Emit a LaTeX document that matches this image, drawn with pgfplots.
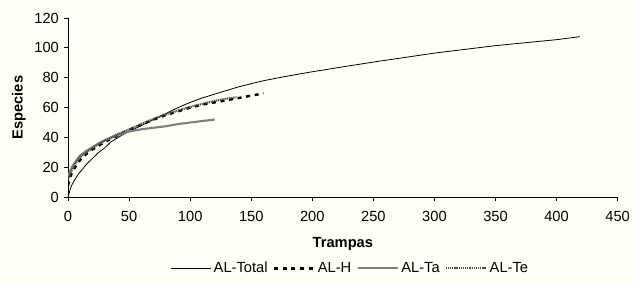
\documentclass[border=0pt]{standalone}
\usepackage{fontspec}
\setmainfont{Liberation Sans}
\usepackage{pgfplots}
\pgfplotsset{compat=1.18}
\definecolor{cream}{HTML}{FFFFF5}
\begin{document}
\fontsize{11}{13}\selectfont
\begin{tikzpicture}
\fill[cream] (0,0) rectangle (475pt,213.75pt);
\path[use as bounding box] (0,0) rectangle (475pt,213.75pt);
\begin{axis}[
  at={(51pt,66pt)}, anchor=south west,
  scale only axis, width=411.75pt, height=134.25pt,
  xmin=0, xmax=450, ymin=0, ymax=120,
  xtick={0,50,...,450}, ytick={0,20,...,120},
  axis lines=left, axis line style={-, line width=0.6pt},
  tick align=outside, major tick length=3pt,
  tick style={black, line width=0.6pt},
  /pgf/number format/assume math mode=true,
  ticklabel style={font=\fontsize{11}{13}\selectfont},
  xticklabel style={yshift=-4pt},
  xlabel={\textbf{Trampas}}, ylabel={\textbf{Especies}},
  xlabel style={font=\fontsize{11}{13}\selectfont, yshift=-4pt},
  ylabel style={font=\fontsize{11}{13}\selectfont, yshift=-1pt},
  legend columns=4,
  legend style={at={(0.514,-0.397)}, anchor=center, draw=none, fill=none,
    font=\fontsize{11}{13}\selectfont, /tikz/every even column/.append style={column sep=2pt}},
  legend image code/.code={\draw[#1] (0cm,0cm) -- (1.05cm,0cm);},
]
\addplot[black, line width=0.6pt] coordinates {
(0,0)(1,3)(2,6)(3,8)(5,11)(8,15)(10,17)(15,22)(20,26)(25,30)(30,33)(35,37)(40,39.5)(45,42)(50,44)(60,48)(70,52)(80,56)(90,60)(100,63.5)(110,66.5)(120,69)(130,71.5)(140,74)(150,76)(160,78)(175,80.4)(190,82.6)(200,84)(225,87.3)(250,90.5)(275,93.5)(300,96.5)(325,99)(350,101.5)(375,103.5)(400,105.5)(419,107.5)};
\addlegendentry{AL-Total}
\addplot[black, line width=1.8pt, dash pattern=on 3pt off 3.5pt] coordinates {
(0,8)(1,11)(2,14)(3,16)(5,19)(8,23)(10,25)(15,29)(20,32)(25,34.5)(30,37)(40,41)(50,45)(60,48.5)(70,52)(80,55)(90,57.5)(100,60)(110,62)(120,63.5)(130,65)(140,66.5)(150,68)(160,69.5)};
\addlegendentry{AL-H}
\addplot[gray, line width=1.6pt] coordinates {
(0,14)(1,16)(2,18)(3,20)(5,22.5)(8,26)(10,28)(15,31)(20,33.5)(25,36)(30,38)(40,41.5)(50,44)(60,45.5)(70,46.5)(80,47.5)(90,49)(100,50)(110,51)(120,52)};
\addlegendentry{AL-Ta}
\addplot[gray!60!black, line width=1.6pt, dash pattern=on 0.8pt off 0.6pt] coordinates {
(0,12)(1,14)(2,16)(3,18)(5,21)(8,25)(10,27)(15,30)(20,33)(25,35.5)(30,38)(40,42)(50,45.5)(60,49)(70,52.5)(80,55.5)(90,58)(100,60.5)(110,62.5)(120,64.5)(130,66)(138,67)};
\addlegendentry{AL-Te}
\end{axis}
\end{tikzpicture}
\end{document}
